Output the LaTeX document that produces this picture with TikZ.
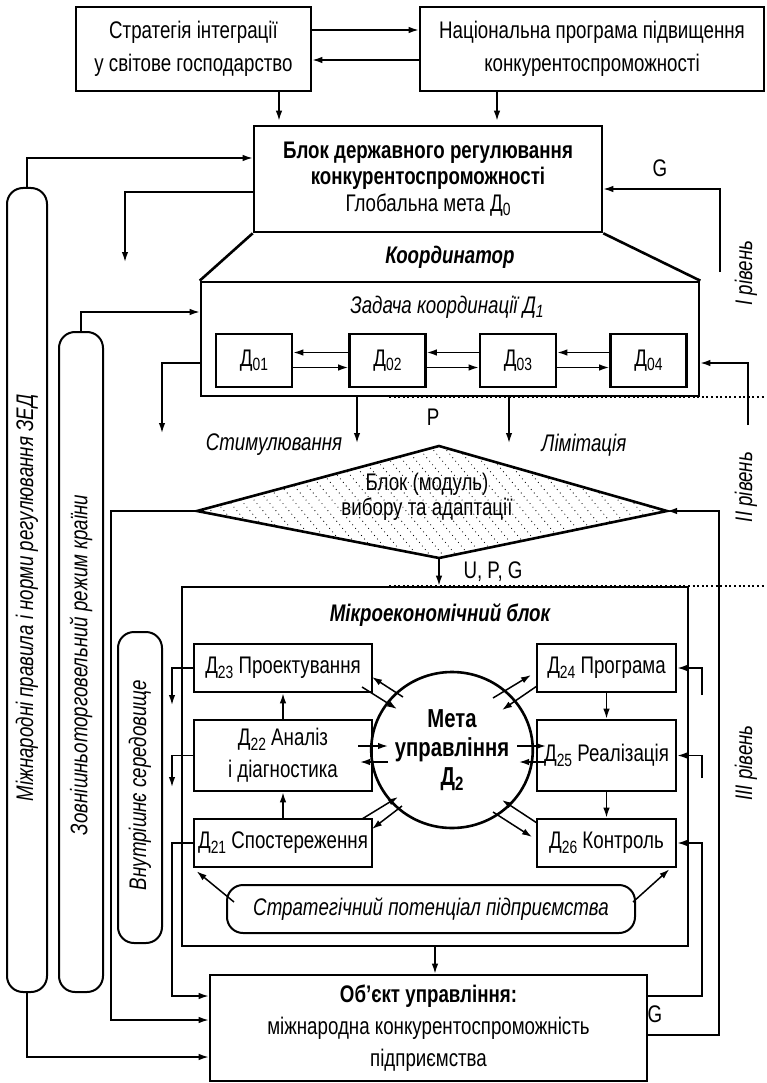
\documentclass[tikz,border=0pt]{standalone}
\usepackage{fontspec}
\setmainfont{Liberation Sans}[FakeStretch=0.78]
\usetikzlibrary{arrows.meta,shapes.geometric}
\newcommand\bodyfont{\fontsize{24}{30}\selectfont}
\newcommand\sbs[1]{\raisebox{-0.35ex}{\scalebox{0.74}{#1}}}
\begin{document}
\begin{tikzpicture}[x=1pt,y=-1pt,
  box/.style={draw, line width=2.6pt, inner sep=0pt, align=center, font=\bodyfont},
  dbox/.style={box, minimum width=76pt, minimum height=53pt},
  mbox/.style={box, minimum width=178pt, minimum height=48pt},
  nbox/.style={box, minimum width=139pt, minimum height=48pt},
  bar/.style={draw, line width=2pt, rounded corners=16pt, inner sep=0pt},
  arr/.style={line width=1.5pt, -{Latex[length=10pt,width=6.5pt]}},
  dotl/.style={line width=2pt, dash pattern=on 2pt off 2.6pt},
  hatch/.style={line width=1.2pt, line cap=round, dash pattern=on 0pt off 4.6pt},
  lbl/.style={font=\bodyfont, inner sep=0pt},
  ilbl/.style={font=\bodyfont\itshape, inner sep=0pt}]
\fill[white] (0,0) rectangle (766,1083);
\useasboundingbox (0,0) rectangle (766,1083);

% ---- top level
\node[box, minimum width=235pt, minimum height=84pt, font=\fontsize{24}{33}\selectfont] (A) at (193.5,49) {Стратегія інтеграції\\у світове господарство};
\node[box, minimum width=344pt, minimum height=84pt, font=\fontsize{24}{33}\selectfont] (B) at (592,49) {Національна програма підвищення\\конкурентоспроможності};
\node[box, minimum width=348pt, minimum height=106pt, font=\fontsize{24}{26.5}\selectfont] (C) at (428,179) {\textbf{Блок державного регулювання}\\\textbf{конкурентоспроможності}\\Глобальна мета Д\sbs{0}};

\draw[arr] ([yshift=19pt]A.east) -- ([yshift=19pt]B.west);
\draw[arr] ([yshift=-11pt]B.west) -- ([yshift=-11pt]A.east);
\coordinate (a1) at ([xshift=85.5pt]A.south);
\coordinate (b1) at ([xshift=-95pt]B.south);
\draw[arr] (a1) -- ([yshift=4pt]a1 |- C.north);
\draw[arr] (b1) -- ([yshift=4pt]b1 |- C.north);

% ---- coordinator
\node[box, minimum width=498pt, minimum height=114pt] (K) at (450,339) {};
\draw[line width=2.6pt] (C.south west) -- (K.north west) (C.south east) -- (K.north east);
\node[font=\bodyfont\bfseries\itshape, inner sep=0pt] (Kt) at (450,257) {Координатор};
\node[ilbl] (Kz) at (447,307) {Задача координації Д\sbs{1}};
\node[dbox] (d1) at (254,360.5) {Д\sbs{01}};
\node[dbox] (d2) at (387.5,360.5) {Д\sbs{02}};
\node[dbox] (d3) at (518,360.5) {Д\sbs{03}};
\node[dbox] (d4) at (648.5,360.5) {Д\sbs{04}};
\foreach \u/\v in {d1/d2,d2/d3,d3/d4}{
  \draw[arr] ([yshift=8pt]\v.west) -- ([yshift=8pt]\u.east);
  \draw[arr] ([yshift=-7pt]\u.east) -- ([yshift=-7pt]\v.west);
}

% ---- side bars
\node[bar, minimum width=40pt, minimum height=804pt] (M1) at (27,590) {};
\node[ilbl, rotate=90] (M1t) at (27,598) {Міжнародні правила і норми регулювання ЗЕД};
\node[bar, minimum width=44pt, minimum height=660pt] (M2) at (81,662) {};
\node[ilbl, rotate=90] (M2t) at (81,665) {Зовнішньоторговельний режим країни};
\node[bar, minimum width=44pt, minimum height=311pt] (M3) at (140,787.5) {};
\node[ilbl, rotate=90] (M3t) at (140,785) {Внутрішнє середовище};

\draw[arr] (M1.north) |- ([yshift=21pt]C.west);
\coordinate (e1) at (125,262);
\draw[arr] ([yshift=-13pt]C.west) -| (e1);
\draw[arr] (M2.north) |- ([yshift=27pt]K.west);
\coordinate (e2) at (162,433);
\draw[arr] ([yshift=-24pt]K.west) -| (e2);
\coordinate (s1) at (720,272);
\draw[arr] (s1) |- ([yshift=-10pt]C.east);
\coordinate (s2) at (748,425);
\draw[arr] (s2) |- ([yshift=-24pt]K.east);
\coordinate (e3) at (357,443);
\coordinate (e4) at (509,443);
\draw[arr] (e3 |- K.south) -- (e3);
\draw[arr] (e4 |- K.south) -- (e4);

\node[lbl] (G1) at (660,168) {G};
\node[lbl] (P) at (433,417) {P};
\node[ilbl] (stim) at (274,445) {Стимулювання};
\node[ilbl] (lim) at (584,445) {Лімітація};
\draw[dotl] (389,397) -- (766,397);

% ---- diamond
\coordinate (DMn) at (439,446);
\coordinate (DMe) at (667,511);
\coordinate (DMs) at (439,558);
\coordinate (DMw) at (197,511);
\begin{scope}
  \clip (DMn) -- (DMe) -- (DMs) -- (DMw) -- cycle;
  \foreach \x in {100,113,...,700} \draw[hatch] (\x,440) -- ++(110,132);
\end{scope}
\draw[line width=2.6pt] (DMn) -- (DMe) -- (DMs) -- (DMw) -- cycle;
\node[font=\fontsize{24}{25}\selectfont, align=center, inner sep=0pt] (DMt) at (427,497) {Блок (модуль)\\вибору та адаптації};

% ---- micro block
\node[box, minimum width=506pt, minimum height=359pt] (MB) at (435,766.5) {};
\draw[arr] (DMs) -- (DMs |- MB.north);
\node[lbl] (UPG) at (493,572) {U, P, G};
\draw[dotl] (389,586) -- (766,586);
\node[font=\bodyfont\bfseries\itshape, inner sep=0pt] (MBt) at (440,615) {Мікроекономічний блок};

\node[mbox] (D23) at (283,668) {Д\sbs{23} Проектування};
\node[mbox, minimum height=71pt, font=\fontsize{24}{32}\selectfont] (D22) at (283,755.5) {Д\sbs{22} Аналіз\\і діагностика};
\node[mbox] (D21) at (283,843) {Д\sbs{21} Спостереження};
\node[nbox] (D24) at (606.5,668) {Д\sbs{24} Програма};
\node[nbox, minimum height=71pt] (D25) at (606.5,755.5) {Д\sbs{25} Реалізація};
\node[nbox] (D26) at (606.5,843) {Д\sbs{26} Контроль};
\node[draw, ellipse, line width=2.6pt, minimum width=131pt, minimum height=156pt, inner sep=0pt, align=center, font=\fontsize{26}{29}\selectfont\bfseries] (E) at (452,750) {Мета\\управління\\Д\sbs{2}};

\draw[arr] (D21.north) -- (D22.south);
\draw[arr] (D22.north) -- (D23.south);
\draw[arr] (D24.south) -- (D25.north);
\draw[arr] (D25.south) -- (D26.north);

% ellipse links
\draw[arr] (403,697) -- (372,677);
\draw[arr] (362,687) -- (397,709);
\draw[arr] (358,746) -- (388,746);
\draw[arr] (388,762) -- (360,762);
\draw[arr] (362,819) -- (398,797);
\draw[arr] (402,806) -- (372,829);
\draw[arr] (493,698) -- (531,675);
\draw[arr] (537,686) -- (502,710);
\draw[arr] (517,746) -- (546,746);
\draw[arr] (546,762) -- (519,762);
\draw[arr] (537,823) -- (502,800);
\draw[arr] (493,812) -- (532,837);

\node[draw, line width=2pt, rounded corners=16pt, minimum width=408pt, minimum height=48pt, font=\bodyfont\itshape, inner sep=0pt] (SP) at (431,909) {Стратегічний потенціал підприємства};
\draw[arr] ([xshift=8pt,yshift=-18pt]SP.north west) -- ([xshift=4pt,yshift=-3pt]D21.south west);
\draw[arr] ([xshift=-3pt,yshift=-18pt]SP.north east) -- ([xshift=-8pt,yshift=-1pt]D26.south east);

% left links of D2x
\coordinate (f1) at (172,705);
\coordinate (f2) at (172,787);
\draw[arr] (D23.west) -| (f1);
\draw[arr] (D22.west) -| (f2);

% ---- object
\node[box, minimum width=437pt, minimum height=106pt, font=\fontsize{24}{32}\selectfont] (O) at (428.5,1028) {\textbf{Об’єкт управління:}\\міжнародна конкурентоспроможність\\підприємства};
\draw[arr] (MB.south) -- (MB.south |- O.north);
\draw[arr] (D21.west) -- (172,843) |- ([yshift=32pt]O.west);
\draw[arr] (DMw) -- (111,511) |- ([yshift=8pt]O.west);
\draw[arr] (M1.south) |- ([yshift=-29pt]O.west);
\draw[arr] ([yshift=-7pt]O.east) -| (719,511) -- (DMe);
\draw[arr] ([yshift=32pt]O.east) -| (702,843) -- (D26.east);
\node[lbl] (G2) at (655,1014) {G};

% right free inputs
\coordinate (r1) at (702,695);
\coordinate (r2) at (702,778);
\draw[arr] (r1) |- (D24.east);
\draw[arr] (r2) |- (D25.east);

% ---- level labels
\node[ilbl, rotate=90] (L1) at (746,273) {I рівень};
\node[ilbl, rotate=90] (L2) at (746,487) {II рівень};
\node[ilbl, rotate=90] (L3) at (746,763) {III рівень};
\end{tikzpicture}
\end{document}
